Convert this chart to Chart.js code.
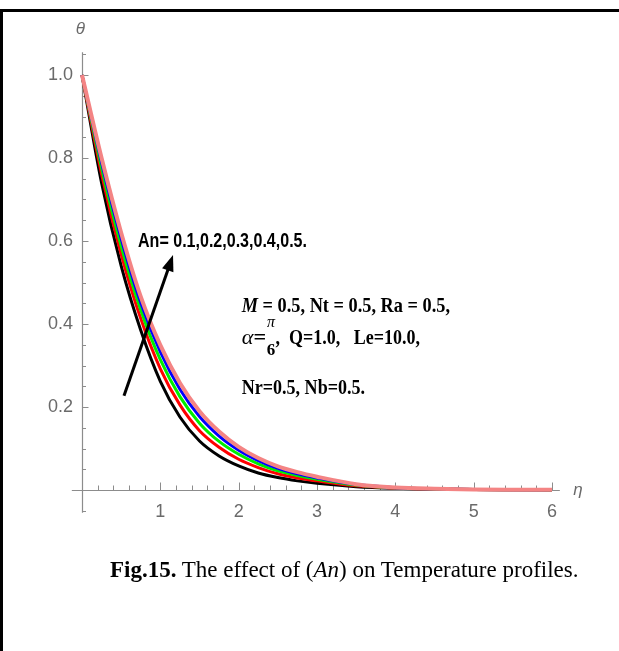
<!DOCTYPE html>
<html><head><meta charset="utf-8">
<script src="https://cdn.jsdelivr.net/npm/chart.js@4.4.1/dist/chart.umd.min.js"></script>
<style>
html,body{margin:0;padding:0;background:#fff;}
#wrap{position:relative;width:619px;height:651px;overflow:hidden;}
#frame{position:absolute;left:0;top:9px;width:619px;height:650px;border-top:3px solid #000;border-left:3px solid #000;box-sizing:border-box;}
canvas{position:absolute;left:0;top:0;}
#cap{position:absolute;left:110px;top:557px;font-family:'Liberation Serif','Times New Roman',serif;font-size:23px;color:#000;white-space:nowrap;}
</style></head><body>
<div id="wrap"><div id="frame"></div><canvas id="c" width="619" height="651"></canvas>
<div id="cap"><b>Fig.15.</b> The effect of (<i>An</i>) on Temperature profiles.</div></div>
<script>
// ---- data ----
const eta = [0,0.25,0.5,0.75,1.0,1.25,1.5,1.75,2.0,2.25,2.5,2.75,3.0,3.5,4.0,4.5,5.0,5.5,6.0];
const anValues = ['0.1','0.2','0.3','0.4','0.5'];
const thetaAn01 = [1,0.74,0.54,0.385,0.262,0.176,0.118,0.082,0.058,0.041,0.030,0.022,0.016,0.008,0.004,0.002,0.001,0.0005,0.0002];
const thetaAn02 = [1,0.761,0.568,0.413,0.292,0.205,0.143,0.103,0.074,0.054,0.039,0.029,0.022,0.010,0.0047,0.0024,0.0012,0.0006,0.0003];
const thetaAn03 = [1,0.776,0.588,0.434,0.314,0.225,0.161,0.117,0.086,0.063,0.046,0.035,0.026,0.012,0.0052,0.0026,0.0013,0.0007,0.0003];
const thetaAn04 = [1,0.789,0.606,0.451,0.333,0.243,0.177,0.130,0.096,0.071,0.052,0.039,0.029,0.013,0.0056,0.0028,0.0014,0.0007,0.0004];
const thetaAn05 = [1,0.80,0.62,0.466,0.349,0.258,0.19,0.141,0.104,0.077,0.057,0.043,0.032,0.014,0.006,0.003,0.0015,0.0008,0.0004];
const xTickValues = [1,2,3,4,5,6];
const yTickValues = [0.2,0.4,0.6,0.8,1.0];

// ---- styles ----
const seriesData = [thetaAn01,thetaAn02,thetaAn03,thetaAn04,thetaAn05];
const seriesColors = ['#000000','#ff0000','#00ee00','#0000ff','#f48484'];
const seriesWidths = [3,3,3,3,4];
const axisGray = '#8c8c8c';
const labelGray = '#6a6a6a';
const tickFont = "'Liberation Sans',Arial,sans-serif";

const datasets = seriesData.map((vals,i)=>({
  label:'An = '+anValues[i],
  data: eta.map((e,j)=>({x:e,y:vals[j]})),
  borderColor: seriesColors[i],
  borderWidth: seriesWidths[i],
  pointRadius:0,
  fill:false,
  cubicInterpolationMode:'monotone',
  clip:false,
  order: seriesData.length - i
}));

function drawRich(ctx, segs, x, y, width){
  let total=0;
  segs.forEach(s=>{ctx.font=s.f; s.w=ctx.measureText(s.t).width; total+=s.w;});
  const sx = width/total;
  ctx.save(); ctx.translate(x,y); ctx.scale(sx,1);
  let cx=0;
  segs.forEach(s=>{ctx.font=s.f; ctx.textAlign='left'; ctx.textBaseline='alphabetic'; ctx.fillText(s.t,cx,0); cx+=s.w;});
  ctx.restore();
}

const axesPlugin = {
  id:'mmaAxes',
  beforeDatasetsDraw(chart){
    const {ctx, scales:{x:xs, y:ys}} = chart;
    const X = v=>xs.getPixelForValue(v), Y = v=>ys.getPixelForValue(v);
    const x0 = Math.round(X(0))+0.5, y0 = Math.round(Y(0))+0.5;
    ctx.save();
    ctx.strokeStyle = axisGray; ctx.lineWidth = 1.2;
    ctx.beginPath();
    ctx.moveTo(X(-0.13), y0); ctx.lineTo(X(6.1), y0);
    ctx.moveTo(x0, Y(-0.055)); ctx.lineTo(x0, Y(1.055));
    ctx.stroke();
    ctx.lineWidth = 1;
    ctx.beginPath();
    for(let i=1;i<=30;i++){
      const px = Math.round(X(i*0.2))+0.5;
      const len = (i%5===0)?8:5;
      ctx.moveTo(px,y0); ctx.lineTo(px,y0-len);
    }
    for(let i=-1;i<=21;i++){
      if(i===0) continue;
      const py = Math.round(Y(i*0.05))+0.5;
      const len = (i%4===0)?6:3.5;
      ctx.moveTo(x0,py); ctx.lineTo(x0+len,py);
    }
    ctx.stroke();
    ctx.restore();
  },
  afterDatasetsDraw(chart){
    const {ctx, scales:{x:xs, y:ys}} = chart;
    const X = v=>xs.getPixelForValue(v), Y = v=>ys.getPixelForValue(v);
    ctx.save();
    // axis labels
    ctx.fillStyle = labelGray;
    ctx.font = "italic 17px "+tickFont;
    ctx.textAlign='center'; ctx.textBaseline='alphabetic';
    ctx.fillText('θ', X(-0.02), Y(1.1));
    ctx.textAlign='left';
    ctx.fillText('η', X(6.27), Y(-0.012));
    // arrow
    const ax0=X(0.536), ay0=Y(0.227), ax1=X(1.162), ay1=Y(0.566);
    const ang = Math.atan2(ay1-ay0, ax1-ax0);
    const hl=16, hw=6;
    ctx.strokeStyle='#000'; ctx.fillStyle='#000'; ctx.lineWidth=3;
    ctx.beginPath(); ctx.moveTo(ax0,ay0);
    ctx.lineTo(ax1-Math.cos(ang)*hl*0.8, ay1-Math.sin(ang)*hl*0.8); ctx.stroke();
    ctx.beginPath();
    ctx.moveTo(ax1,ay1);
    ctx.lineTo(ax1-Math.cos(ang)*hl - Math.sin(ang)*hw, ay1-Math.sin(ang)*hl + Math.cos(ang)*hw);
    ctx.lineTo(ax1-Math.cos(ang)*hl + Math.sin(ang)*hw, ay1-Math.sin(ang)*hl - Math.cos(ang)*hw);
    ctx.closePath(); ctx.fill();
    // An label
    ctx.fillStyle='#000';
    const sansB = "bold 21px 'Liberation Sans',Arial,sans-serif";
    drawRich(ctx,[{t:'An= '+anValues.join(',')+'.', f:sansB}], X(0.715), Y(0.586), X(2.872)-X(0.715));
    // parameter block
    const serB = "bold 22px 'Liberation Serif','Times New Roman',serif";
    const serBI = "italic bold 22px 'Liberation Serif','Times New Roman',serif";
    const serI = "italic 22px 'Liberation Serif','Times New Roman',serif";
    drawRich(ctx,[{t:'M',f:serBI},{t:' = 0.5, Nt = 0.5, Ra = 0.5,',f:serB}], X(2.039), Y(0.430), X(4.698)-X(2.039));
    drawRich(ctx,[{t:'α',f:serI},{t:'=',f:serB}], X(2.039), Y(0.352), X(2.35)-X(2.039));
    ctx.textAlign='center';
    ctx.font="italic 16px 'Liberation Serif','Times New Roman',serif";
    ctx.fillText('π', X(2.413), Y(0.393));
    ctx.font="bold 17px 'Liberation Serif','Times New Roman',serif";
    ctx.fillText('6', X(2.413), Y(0.325));
    drawRich(ctx,[{t:',  Q=1.0,   Le=10.0,',f:serB}], X(2.47), Y(0.352), X(4.315)-X(2.47));
    drawRich(ctx,[{t:'Nr=0.5, Nb=0.5.',f:serB}], X(2.039), Y(0.231), X(3.613)-X(2.039));
    ctx.restore();
  }
};

new Chart(document.getElementById('c'), {
  type:'line',
  data:{datasets},
  options:{
    responsive:false, animation:false, devicePixelRatio:1,
    layout:{padding:{left:42,right:67,top:75,bottom:131}},
    plugins:{legend:{display:false}, tooltip:{enabled:false}},
    scales:{
      x:{type:'linear', min:0, max:6, position:'bottom',
        afterBuildTicks:s=>{s.ticks = xTickValues.map(v=>({value:v}));},
        afterFit:s=>{s.height=30;},
        grid:{display:false, drawTicks:false}, border:{display:false},
        ticks:{padding:11, color:labelGray, font:{family:tickFont,size:18}, maxRotation:0, autoSkip:false,
          callback:v=>String(v)}},
      y:{type:'linear', min:0, max:1, position:'left',
        afterBuildTicks:s=>{s.ticks = yTickValues.map(v=>({value:v}));},
        afterFit:s=>{s.width=40;},
        grid:{display:false, drawTicks:false}, border:{display:false},
        ticks:{padding:9, color:labelGray, font:{family:tickFont,size:18}, autoSkip:false,
          callback:v=>Number(v).toFixed(1)}}
    }
  },
  plugins:[axesPlugin]
});
</script>
</body></html>
